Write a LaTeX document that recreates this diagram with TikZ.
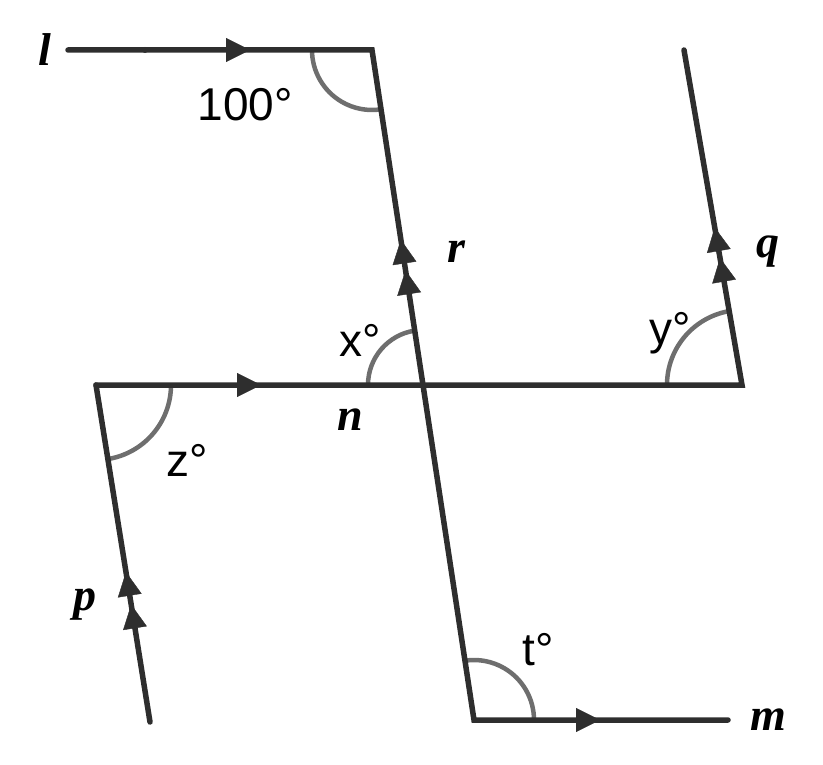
\documentclass[tikz,border=0pt]{standalone}
\usepackage{fontspec}
\setmainfont{Liberation Serif}
\newfontfamily\lsans{Liberation Sans}
\usetikzlibrary{arrows.meta,decorations.markings,calc}
\definecolor{ln}{HTML}{2E2E2E}
\definecolor{ag}{HTML}{6E6E6E}
\tikzset{
 seg/.style={draw=ln,line width=5.5pt,line cap=round,line join=miter},
 angarc/.style={draw=ag,line width=4.5pt},
 tri/.style={decoration={markings,mark=at position #1 with {\arrow[ln]{Triangle[length=24pt,width=24pt]}}},postaction=decorate},
 lbl/.style={font=\fontsize{46}{46}\selectfont\bfseries\itshape,text=black},
 deg/.style={font=\lsans\fontsize{46}{46}\selectfont,text=black}
}
\begin{document}
\begin{tikzpicture}[x=1pt,y=1pt]
\useasboundingbox (0,0) rectangle (823,-765);
\coordinate (L0) at (68,-50);
\coordinate (L1) at (372,-50);
\coordinate (X) at (423,-385);
\coordinate (T) at (474,-720);
\coordinate (M) at (728,-720);
\coordinate (N0) at (96,-385);
\coordinate (N1) at (742,-385);
\coordinate (Q) at (684,-50);
\coordinate (P) at (150,-722);
% arcs
\draw[angarc] ($(L1)+(180:60)$) arc[start angle=180,end angle=278.7,radius=60];
\draw[angarc] ($(X)+(98.7:55)$) arc[start angle=98.7,end angle=180,radius=55];
\draw[angarc] ($(N1)+(99.8:75)$) arc[start angle=99.8,end angle=180,radius=75];
\draw[angarc] ($(N0)+(-80.9:75)$) arc[start angle=-80.9,end angle=0,radius=75];
\draw[angarc] ($(T)+(0:60)$) arc[start angle=0,end angle=98.7,radius=60];
% lines
\draw[seg] (L0) -- (L1) -- (T) -- (M);
\draw[seg] (N0) -- (N1) -- (Q);
\draw[seg] (N0) -- (P);
% arrow marks
\path[tri=182pt] (L0) -- (L1);
\path[tri=165pt] (N0) -- (N1);
\path[tri=126pt] (T) -- (M);
\path[tri=116pt,decoration={markings,mark=at position 147pt with {\arrow[ln]{Triangle[length=24pt,width=24pt]}}}] (X) -- (L1);
\path[tri=129pt,decoration={markings,mark=at position 160pt with {\arrow[ln]{Triangle[length=24pt,width=24pt]}}}] (N1) -- (Q);
\path[tri=119pt,decoration={markings,mark=at position 152pt with {\arrow[ln]{Triangle[length=24pt,width=24pt]}}}] (P) -- (N0);
\fill[ln] (145,-50) circle (3pt);
% labels
\node[lbl] (ll) at (45,-50) {l};
\node[deg] (d100) at (245,-105) {100°};
\node[lbl] (lr) at (456,-252) {r};
\node[lbl] (lq) at (768,-252) {q};
\node[deg] (dx) at (360,-340) {x°};
\node[deg] (dy) at (670,-333) {y°};
\node[lbl] (lnn) at (350,-420) {n};
\node[deg] (dz) at (187,-460) {z°};
\node[lbl] (lp) at (85,-605) {p};
\node[deg] (dt) at (538,-650) {t°};
\node[lbl] (lm) at (768,-720) {m};
\end{tikzpicture}
\end{document}
